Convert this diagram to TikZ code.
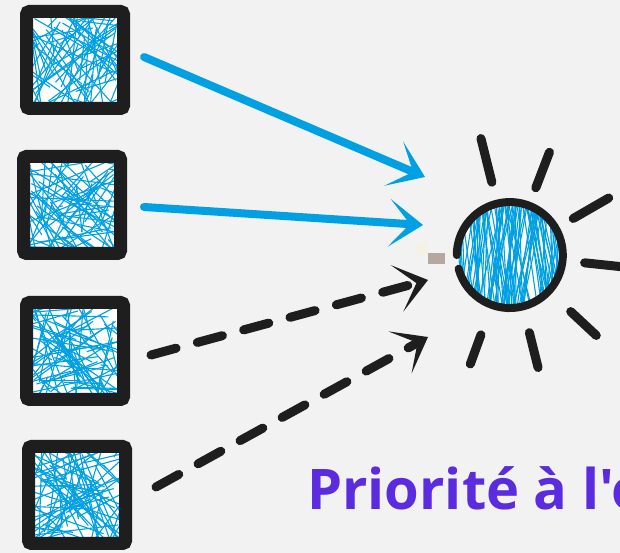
\documentclass[tikz,border=0pt]{standalone}
\usepackage{fontspec}
\usepackage{tikz}
\usetikzlibrary{arrows.meta,positioning,calc}
\newfontfamily\labelfont{Open Sans}
\definecolor{paper}{HTML}{F2F2F2}
\definecolor{inkblack}{HTML}{1E1E1E}
\definecolor{skyblue}{HTML}{00A0E3}
\definecolor{violet}{HTML}{5B2BE0}
\tikzset{
  scribline/.style={draw=skyblue, line width=1.1pt},
  scribble/.style={path picture={
    \foreach \k in {1,...,90}{
      \pgfmathsetmacro\xa{rand*62}\pgfmathsetmacro\ya{rand*62}
      \pgfmathsetmacro\xb{rand*62}\pgfmathsetmacro\yb{rand*62}
      \draw[scribline] ([shift={(\xa pt,\ya pt)}]path picture bounding box.center)
        -- ([shift={(\xb pt,\yb pt)}]path picture bounding box.center);
    }}},
  tallscribble/.style={path picture={
    \foreach \k in {1,...,110}{
      \pgfmathsetmacro\xa{rand*60}\pgfmathsetmacro\xb{\xa+rand*30}
      \draw[scribline] ([shift={(\xa pt,60pt)}]path picture bounding box.center)
        -- ([shift={(\xb pt,-60pt)}]path picture bounding box.center);
    }}},
  box/.style={draw=inkblack, line width=13pt, fill=white, minimum size=97pt, inner sep=0pt, rounded corners=3pt, scribble},
  sun/.style={circle, fill=white, minimum size=106pt, inner sep=0pt, tallscribble},
  ring/.style={draw=inkblack, line width=8pt, line cap=round},
  ray/.style={draw=inkblack, line width=9pt, line cap=round},
  blueflow/.style={draw=skyblue, line width=8pt, line cap=round, -{Stealth[length=34pt, width=48pt, inset=21pt]}},
  darkflow/.style={draw=inkblack, line width=9pt, line cap=round, dash pattern=on 26pt off 22pt, -{Stealth[length=32pt, width=48pt, inset=20pt]}},
  caption/.style={font=\labelfont\bfseries\fontsize{56}{62}\selectfont, text=violet, anchor=base west, inner sep=0pt}
}
\begin{document}
\begin{tikzpicture}[x=1pt, y=1pt]
\useasboundingbox (0,0) rectangle (620,553);
\clip (0,0) rectangle (620,553);
\fill[paper] (0,0) rectangle (620,553);
\pgfmathsetseed{11}
% senders on the left
\node[box] (s1) at (75,493) {};
\node[box] (s2) at (72,348) {};
\node[box] (s3) at (75,202) {};
\node[box] (s4) at (77,58) {};
% receiver
\node[sun] (sun) at (510,298) {};
\draw[ring] (sun.195) arc[start angle=195, end angle=540, radius=53pt];
\foreach \a/\r/\R in {104/75/120, 69/72/110, 30/73/114, -6/75/116, -43/83/118, -76/80/116, -110/85/116}
  \draw[ray] ([shift={(\a:\r pt)}]sun.center) -- ([shift={(\a:\R pt)}]sun.center);
% small marks beside the receiver
\fill[fill={rgb,255:red,246;green,241;blue,230}] (415,298) rectangle (428,310);
\fill[fill={rgb,255:red,181;green,168;blue,160}] (428,289) rectangle (445,300);
% arrow ends
\coordinate (in1) at ([shift={(-85,78)}]sun.center);
\coordinate (in2) at ([shift={(-87,30)}]sun.center);
\coordinate (in3) at ([shift={(-82,-25)}]sun.center);
\coordinate (in4) at ([shift={(-82,-82)}]sun.center);
\draw[blueflow] ([shift={(14,3)}]s1.east) -- (in1);
\draw[blueflow] ([shift={(17,-2)}]s2.east) -- (in2);
\draw[darkflow] ([shift={(21,-4)}]s3.east) -- (in3);
\draw[darkflow] ([shift={(24,8)}]s4.east) -- (in4);
\node[caption] (title) at (307,43) {Priorité à l'o};
\end{tikzpicture}
\end{document}
